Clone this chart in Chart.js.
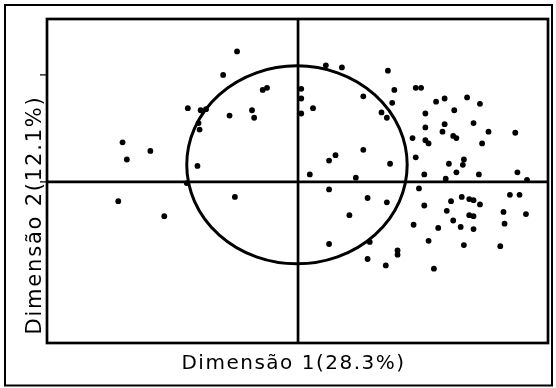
<!DOCTYPE html>
<html><head><meta charset="utf-8">
<script src="https://cdn.jsdelivr.net/npm/chart.js@4"></script>
<style>html,body{margin:0;padding:0;background:#fff}canvas{display:block}</style>
</head><body>
<canvas id="c" width="556" height="388"></canvas>
<script>
// ---- data ----
const xTitle = 'Dimensão 1(28.3%)';
const yTitle = 'Dimensão 2(12.1%)';
const dim1 = [
 -0.57,-0.70,-0.33,-0.29,-1.03,-0.91,-0.86,-0.64,-0.43,-0.41,-0.93,-0.92,-1.64,-1.38,-1.60,-0.94,-1.04,-1.68,-1.25,-0.59,
 0.26,0.41,0.84,0.03,0.03,0.03,0.14,0.61,0.90,0.88,0.78,0.83,1.10,1.15,1.29,1.37,1.58,1.70,1.46,1.19,
 1.64,1.37,1.19,1.35,1.45,1.48,1.78,2.03,1.07,1.19,1.22,1.72,0.61,0.35,0.29,1.10,0.86,1.41,1.55,1.54,
 0.11,0.54,1.18,1.48,1.38,1.69,2.05,2.14,1.13,0.29,0.65,0.83,0.48,1.18,1.43,1.53,1.60,1.64,1.70,1.39,
 1.60,1.64,1.45,1.52,1.64,1.92,1.93,1.98,2.07,2.13,1.08,1.31,1.22,1.55,1.89,0.29,0.67,0.93,0.93,0.65,
 0.82,1.27
];
const dim2 = [
 1.22,1.00,0.86,0.88,0.69,0.67,0.68,0.62,0.67,0.60,0.55,0.49,0.37,0.29,0.21,0.15,-0.01,-0.18,-0.32,-0.14,
 1.09,1.07,1.04,0.87,0.78,0.64,0.69,0.80,0.86,0.74,0.65,0.60,0.88,0.88,0.75,0.78,0.79,0.73,0.67,0.64,
 0.55,0.54,0.51,0.47,0.43,0.41,0.47,0.46,0.41,0.39,0.36,0.36,0.30,0.25,0.20,0.23,0.17,0.17,0.21,0.16,
 0.07,0.04,0.07,0.09,0.03,0.07,0.09,0.02,-0.06,-0.07,-0.15,-0.19,-0.31,-0.22,-0.18,-0.14,-0.16,-0.17,-0.21,-0.27,
 -0.31,-0.32,-0.36,-0.42,-0.44,-0.28,-0.39,-0.12,-0.12,-0.30,-0.40,-0.43,-0.55,-0.59,-0.60,-0.58,-0.56,-0.64,-0.68,-0.72,
 -0.78,-0.81
];
const xRange = [-2.346, 2.336];
const yRange = [-1.505, 1.523];
const yTicks = [0, 1];
const circleCenter = [-0.01, 0.16];
const circleRadii = [1.03, 0.925];

const points = dim1.map((x, i) => ({x, y: dim2[i]}));

const decor = {
  id: 'decor',
  beforeDraw(chart) {
    const ctx = chart.ctx;
    ctx.save();
    ctx.fillStyle = '#fff';
    ctx.fillRect(0, 0, chart.width, chart.height);
    ctx.restore();
  },
  beforeDatasetsDraw(chart) {
    const ctx = chart.ctx, a = chart.chartArea;
    const xs = chart.scales.x, ys = chart.scales.y;
    ctx.save();
    ctx.strokeStyle = '#000';
    // outer frame
    ctx.lineWidth = 2;
    ctx.strokeRect(5, 5, 547, 380.5);
    // plot frame
    ctx.lineWidth = 2.7;
    ctx.strokeRect(a.left, a.top, a.right - a.left, a.bottom - a.top);
    // zero axes
    const x0 = xs.getPixelForValue(0), y0 = ys.getPixelForValue(0);
    ctx.beginPath();
    ctx.moveTo(a.left, y0); ctx.lineTo(a.right, y0);
    ctx.moveTo(x0, a.top); ctx.lineTo(x0, a.bottom);
    ctx.stroke();
    // y ticks
    ctx.lineWidth = 1.2;
    ctx.beginPath();
    yTicks.forEach(v => { const p = ys.getPixelForValue(v); ctx.moveTo(a.left - 7, p); ctx.lineTo(a.left, p); });
    ctx.stroke();
    // circle
    const cx = xs.getPixelForValue(circleCenter[0]), cy = ys.getPixelForValue(circleCenter[1]);
    const rx = xs.getPixelForValue(circleCenter[0] + circleRadii[0]) - cx;
    const ry = cy - ys.getPixelForValue(circleCenter[1] + circleRadii[1]);
    ctx.lineWidth = 3;
    ctx.beginPath();
    ctx.ellipse(cx, cy, rx, ry, 0, 0, Math.PI * 2);
    ctx.stroke();
    ctx.restore();
  },
  afterDraw(chart) {
    const ctx = chart.ctx, a = chart.chartArea;
    ctx.save();
    ctx.fillStyle = '#000';
    ctx.textAlign = 'center';
    ctx.textBaseline = 'alphabetic';
    ctx.font = '20px "DejaVu Sans"';
    if ('letterSpacing' in ctx) ctx.letterSpacing = '1.5px';
    ctx.fillText(xTitle, (a.left + a.right) / 2 - 4, 369);
    ctx.translate(41, 215);
    ctx.rotate(-Math.PI / 2);
    ctx.font = '21px "DejaVu Sans"';
    if ('letterSpacing' in ctx) ctx.letterSpacing = '1.8px';
    ctx.fillText(yTitle, 0, 0);
    ctx.restore();
  }
};

new Chart(document.getElementById('c'), {
  type: 'scatter',
  data: { datasets: [{ data: points, backgroundColor: '#000', borderColor: '#000', pointRadius: 2.9, pointBorderWidth: 0 }] },
  options: {
    responsive: false,
    animation: false,
    devicePixelRatio: 1,
    layout: { padding: { left: 47, top: 19, right: 8, bottom: 45 } },
    plugins: { legend: { display: false }, tooltip: { enabled: false } },
    scales: {
      x: { type: 'linear', min: xRange[0], max: xRange[1], display: false },
      y: { type: 'linear', min: yRange[0], max: yRange[1], display: false }
    }
  },
  plugins: [decor]
});
</script>
</body></html>
